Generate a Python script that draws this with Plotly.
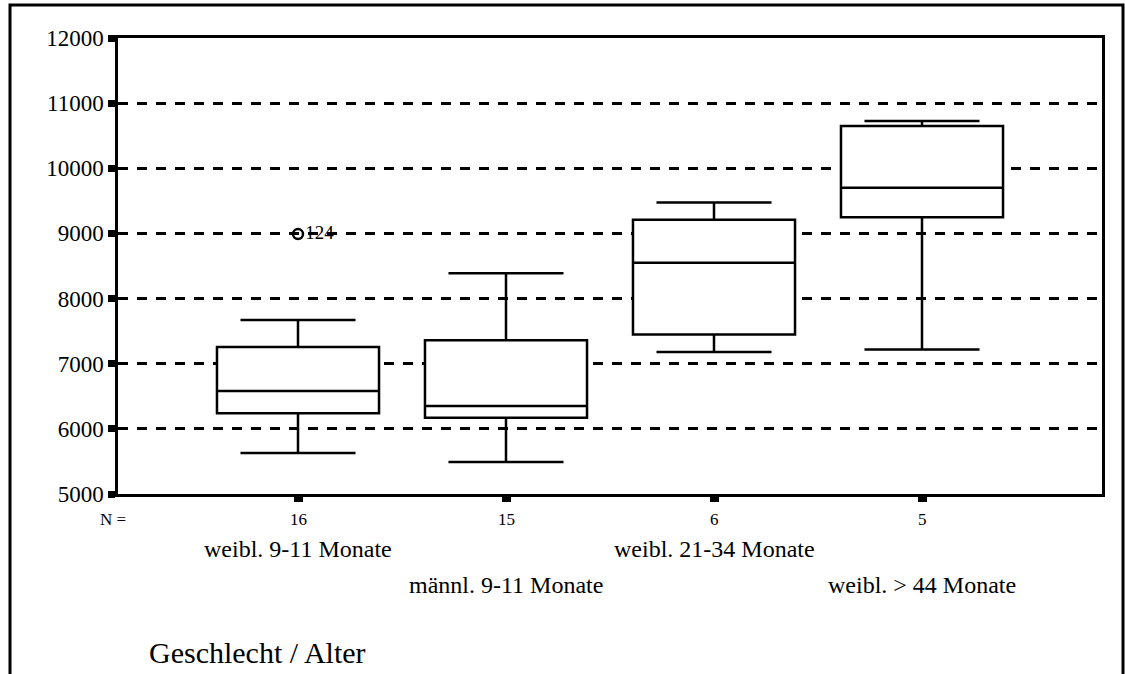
import plotly.graph_objects as go

# ---- data ----
categories = ["weibl. 9-11 Monate", "männl. 9-11 Monate", "weibl. 21-34 Monate", "weibl. > 44 Monate"]
n_counts = [16, 15, 6, 5]
lower_whisker = [5630, 5490, 7180, 7220]
q1 = [6240, 6170, 7450, 9250]
median = [6580, 6350, 8550, 9700]
q3 = [7255, 7360, 9210, 10650]
upper_whisker = [7670, 8390, 9475, 10725]
outlier_group = [1]
outlier_value = [8990]
outlier_label = ["124"]
y_ticks = [5000, 6000, 7000, 8000, 9000, 10000, 11000, 12000]
y_tick_labels = ["5000", "6000", "7000", "8000", "9000", "10000", "11000", "12000"]

positions = list(range(1, len(categories) + 1))
FONT = "Liberation Serif, Times New Roman, serif"

fig = go.Figure()
fig.add_trace(go.Box(
    x=positions, q1=q1, median=median, q3=q3,
    lowerfence=lower_whisker, upperfence=upper_whisker,
    width=0.779, whiskerwidth=0.71,
    fillcolor="white", line=dict(color="black", width=2.5),
    boxpoints=False, hoverinfo="skip", showlegend=False,
))
fig.add_trace(go.Scatter(
    x=outlier_group, y=outlier_value, mode="markers+text",
    text=outlier_label, textposition="middle right",
    textfont=dict(family=FONT, size=19, color="black"),
    marker=dict(symbol="circle-open", size=10, color="black", line=dict(width=2.5)),
    hoverinfo="skip", showlegend=False, cliponaxis=False,
))

W, H = 1125, 674
L, R, T, B = 118, 23, 38, 180
pw, ph = W - L - R, H - T - B

def px_to_paper_x(px):
    return (px - L) / pw

def px_to_paper_y(py):
    return (H - B - py) / ph

annotations = []
annotations.append(dict(text="N =", x=px_to_paper_x(113), y=px_to_paper_y(519), xref="paper", yref="paper",
                        showarrow=False, xanchor="center", yanchor="middle",
                        font=dict(family=FONT, size=17, color="black")))
for p, n in zip(positions, n_counts):
    annotations.append(dict(text=str(n), x=p, y=px_to_paper_y(519), xref="x", yref="paper",
                            showarrow=False, xanchor="center", yanchor="middle",
                            font=dict(family=FONT, size=17, color="black")))
for i, (p, c) in enumerate(zip(positions, categories)):
    row_y = 549 if i % 2 == 0 else 585
    annotations.append(dict(text=c, x=p, y=px_to_paper_y(row_y), xref="x", yref="paper",
                            showarrow=False, xanchor="center", yanchor="middle",
                            font=dict(family=FONT, size=24, color="black")))
annotations.append(dict(text="Geschlecht / Alter", x=px_to_paper_x(257), y=px_to_paper_y(652),
                        xref="paper", yref="paper", showarrow=False,
                        xanchor="center", yanchor="middle",
                        font=dict(family=FONT, size=30, color="black")))

shapes = [dict(type="rect", xref="paper", yref="paper",
               x0=px_to_paper_x(10), x1=px_to_paper_x(1123),
               y0=px_to_paper_y(690), y1=px_to_paper_y(5),
               line=dict(color="black", width=3), fillcolor="rgba(0,0,0,0)", layer="below")]

fig.update_layout(
    width=W, height=H,
    margin=dict(l=L, r=R, t=T, b=B, pad=0),
    paper_bgcolor="white", plot_bgcolor="white",
    font=dict(family=FONT, color="black"),
    annotations=annotations, shapes=shapes,
    showlegend=False,
)
fig.update_xaxes(
    range=[1 - 180 / 208, 1 + (1102 - 298) / 208],
    tickvals=positions, ticktext=["" for _ in positions],
    ticks="outside", ticklen=5, tickwidth=9, tickcolor="black",
    showgrid=False, zeroline=False,
    showline=True, linecolor="black", linewidth=2.5, mirror=True,
)
fig.update_yaxes(
    range=[5000, 12000], tickvals=y_ticks, ticktext=y_tick_labels,
    ticks="outside", ticklen=7, tickwidth=7, tickcolor="black",
    tickfont=dict(family=FONT, size=23, color="black"),
    showgrid=True, gridcolor="black", gridwidth=2.5, griddash="10px,9px",
    zeroline=False,
    showline=True, linecolor="black", linewidth=2.5, mirror=True,
)

fig.write_html("out.html", config={"displayModeBar": False},
               post_script="document.body.style.margin='0';document.body.style.overflow='hidden';")
